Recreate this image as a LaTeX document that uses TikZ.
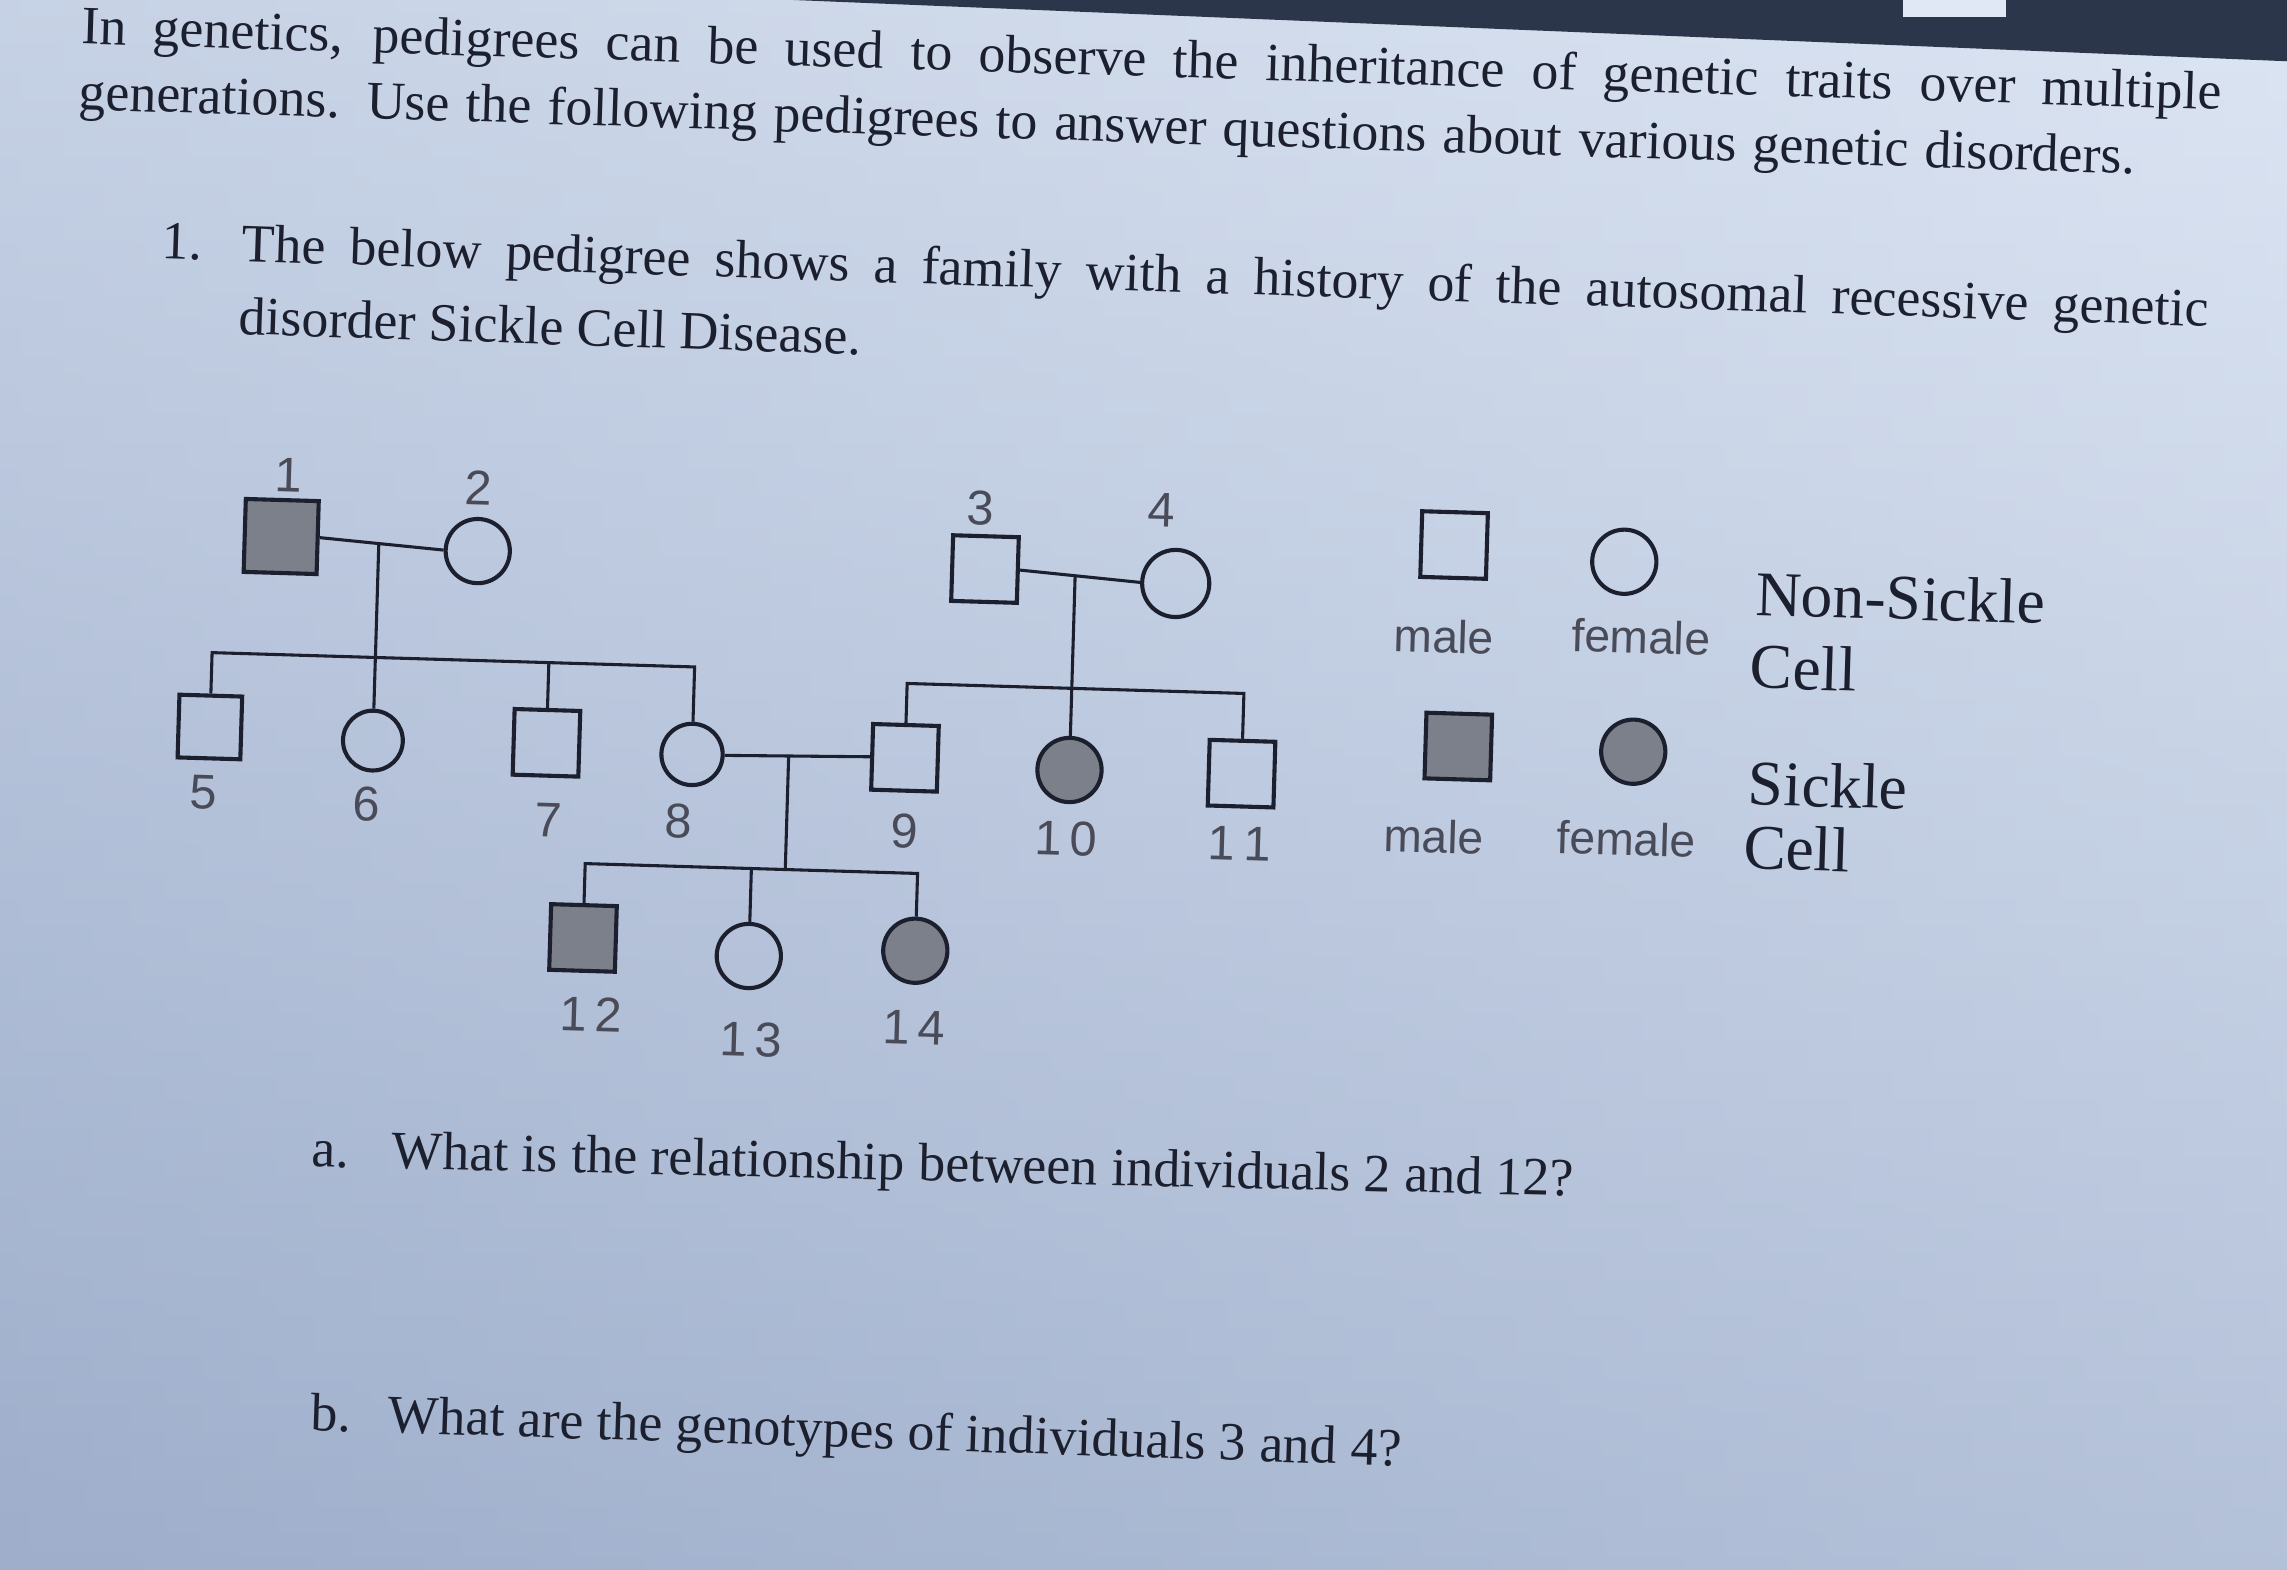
\documentclass[tikz,border=0pt]{standalone}
\usepackage{fontspec}
\setmainfont{Liberation Serif}
\setsansfont{Liberation Sans}
\usetikzlibrary{calc}

\begin{document}
\begin{tikzpicture}[x=0.01cm,y=-0.01cm,
  male/.style={rectangle, draw=ink, line width=0.8pt, minimum size=0.45cm, inner sep=0pt},
  female/.style={circle, draw=ink, line width=0.8pt, minimum size=0.44cm, inner sep=0pt},
  sick/.style={fill=sickgray},
  kin/.style={draw=ink, line width=0.6pt},
  num/.style={font=\sffamily\fontsize{9.5}{10}\selectfont, text=ink!80, inner sep=0pt},
  tag/.style={font=\sffamily\fontsize{9}{10}\selectfont, text=ink!80, inner sep=0pt},
  key/.style={font=\fontsize{12.4}{14}\selectfont, text=ink, inner sep=0pt, anchor=west},
  body/.style={font=\fontsize{10.5}{12.6}\selectfont, text=ink, inner sep=0pt, anchor=base west}]
  \definecolor{papertop}{RGB}{220,229,243}
  \definecolor{paperbot}{RGB}{158,174,203}
  \definecolor{ink}{RGB}{28,32,46}
  \definecolor{band}{RGB}{44,54,74}
  \definecolor{sickgray}{RGB}{124,128,138}
  \useasboundingbox (0,0) rectangle (1568,1076);
  \clip (0,0) rectangle (1568,1076);
  % screen
  \shade[top color=papertop, bottom color=paperbot] (0,0) rectangle (1568,1076);
  \shade[left color=paperbot, right color=papertop, opacity=0.35] (0,0) rectangle (1568,1076);
  \fill[band] (544,0) -- (1568,0) -- (1568,42) -- cycle;
  \fill[papertop!90!white] (1305,0) rectangle (1375,12);

  % text
  \node[body, rotate=-1.76] (intro1) at (55,30) {\makebox[14.67cm][s]{In genetics, pedigrees can be used to observe the inheritance of genetic traits over multiple}};
  \node[body, rotate=-1.79] (intro2) at (53,75) {\makebox[14.10cm][s]{generations. Use the following pedigrees to answer questions about various genetic disorders.}};
  \node[body, rotate=-1.9] (q1num) at (110,177) {1.};
  \node[body, rotate=-1.9] (q1a) at (165,179) {\makebox[13.48cm][s]{The below pedigree shows a family with a history of the autosomal recessive genetic}};
  \node[body, rotate=-1.9] (q1b) at (163,229) {disorder Sickle Cell Disease.};
  \node[body, rotate=-1.34] (qanum) at (213,800) {a.};
  \node[body, rotate=-1.34] (qa) at (268,801) {What is the relationship between individuals 2 and 12?};
  \node[body, rotate=-1.9] (qbnum) at (212,981) {b.};
  \node[body, rotate=-1.9] (qb) at (265,982) {What are the genotypes of individuals 3 and 4?};

  \begin{scope}[rotate around={-1.7:(500,500)}, transform shape]
    % generation I
    \node[male, sick, minimum size=0.5cm] (p1) at (189,377) {};
    \node[female] (p2) at (324,383) {};
    \node[male] (p3) at (672,385) {};
    \node[female, minimum size=0.46cm] (p4) at (803,391) {};
    % generation II
    \node[male, minimum size=0.43cm] (p5) at (144,509) {};
    \node[female, minimum size=0.41cm] (p6) at (256,515) {};
    \node[male] (p7) at (375,513) {};
    \node[female, minimum size=0.42cm] (p8) at (475,518) {};
    \node[male] (p9) at (621,516) {};
    \node[female, sick] (p10) at (734,521) {};
    \node[male] (p11) at (852,520) {};
    % generation III
    \node[male, sick] (p12) at (404,646) {};
    \node[female] (p13) at (518,655) {};
    \node[female, sick] (p14) at (632,648) {};

    \node[num] (l1) at (193,335) {1};
    \node[num] (l2) at (323,340) {2};
    \node[num] (l3) at (668,343) {3};
    \node[num] (l4) at (792,341) {4};
    \node[num] (l5) at (141,554) {5};
    \node[num] (l6) at (253,559) {6};
    \node[num] (l7) at (378,566) {7};
    \node[num] (l8) at (467,564) {8};
    \node[num] (l9) at (622,566) {9};
    \node[num] (l10) at (733,568) {1\,0};
    \node[num] (l11) at (852,568) {1\,1};
    \node[num] (l12) at (411,698) {1\,2};
    \node[num] (l13) at (521,712) {1\,3};
    \node[num] (l14) at (633,701) {1\,4};

    \coordinate (m12) at ($(p1.east)!0.477!(p2.west)$);
    \coordinate (m34) at ($(p3.east)!0.46!(p4.west)$);
    \coordinate (m89) at ($(p8.east)!0.44!(p9.west)$);
    \coordinate (sib1) at (m12 |- 0,458);
    \coordinate (sib2) at (m34 |- 0,465);
    \coordinate (sib3) at (m89 |- 0,595);

    \draw[kin] (p1.east) -- (p2.west);
    \draw[kin] (m12) -- (sib1);
    \draw[kin] (p5.north) |- (sib1) -| (p8.north);
    \draw[kin] (p6.north) -- (p6.north |- sib1);
    \draw[kin] (p7.north) -- (p7.north |- sib1);

    \draw[kin] (p3.east) -- (p4.west);
    \draw[kin] (m34) -- (m34 |- p10.north);
    \draw[kin] (p9.north) |- (sib2) -| (p11.north);

    \draw[kin] (p8.east) -- (p9.west);
    \draw[kin] (m89) -- (sib3);
    \draw[kin] (p12.north) |- (sib3) -| (p14.north);
    \draw[kin] (p13.north) -- (p13.north |- sib3);

    % key
    \node[male] (k1) at (993,359) {};
    \node[female] (k2) at (1110,367) {};
    \node[male, sick] (k3) at (1000,497) {};
    \node[female, sick] (k4) at (1120,497) {};
    \node[tag] (t1) at (988,422) {male};
    \node[tag] (t2) at (1123,418) {female};
    \node[tag] (t3) at (985,559) {male};
    \node[tag] (t4) at (1117,557) {female};
    \node[key] (w1) at (1200,386) {Non-Sickle};
    \node[key] (w2) at (1198,436) {Cell};
    \node[key] (w3) at (1199,516) {Sickle};
    \node[key] (w4) at (1197,560) {Cell};
  \end{scope}
\end{tikzpicture}
\end{document}
